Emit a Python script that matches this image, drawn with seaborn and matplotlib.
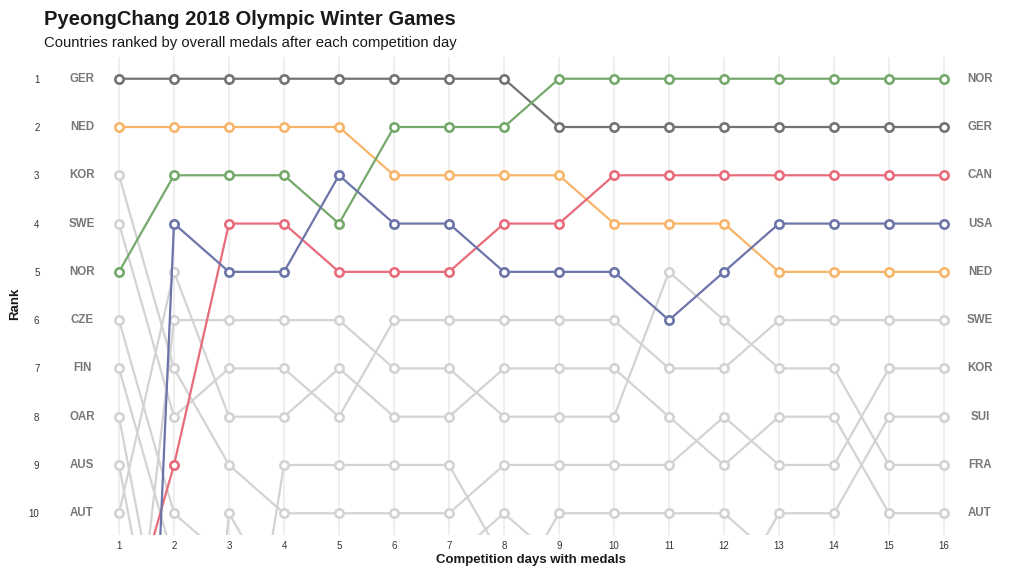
import pandas as pd
import matplotlib
matplotlib.use("Agg")
import matplotlib.pyplot as plt
import seaborn as sns

# ranks after each competition day (values below 10 are off the visible area)
days = list(range(1, 17))

GER = [1, 1, 1, 1, 1, 1, 1, 1, 2, 2, 2, 2, 2, 2, 2, 2]
NED = [2, 2, 2, 2, 2, 3, 3, 3, 3, 4, 4, 4, 5, 5, 5, 5]
NOR = [5, 3, 3, 3, 4, 2, 2, 2, 1, 1, 1, 1, 1, 1, 1, 1]
CAN = [13, 9, 4, 4, 5, 5, 5, 4, 4, 3, 3, 3, 3, 3, 3, 3]
USA = [30, 4, 5, 5, 3, 4, 4, 5, 5, 5, 6, 5, 4, 4, 4, 4]
KOR = [3, 7, 9, 10, 10, 10, 10, 9, 9, 9, 9, 8, 9, 9, 7, 7]
SWE = [4, 8, 7, 7, 8, 6, 6, 6, 6, 6, 7, 7, 6, 6, 6, 6]
AUT = [10, 5, 8, 8, 7, 8, 8, 7, 7, 7, 8, 9, 8, 8, 10, 10]
FRA = [16, 6, 6, 6, 6, 7, 7, 8, 8, 8, 5, 6, 7, 7, 9, 9]
CZE = [6, 10, 11, 11, 13, 13, 13, 13, 14, 14, 14, 14, 14, 15, 15, 15]
FIN = [7, 11, 12, 14, 14, 14, 14, 14, 15, 15, 15, 15, 15, 16, 16, 16]
OAR = [8, 14, 13, 13, 12, 12, 12, 13, 13, 13, 13, 14, 13, 14, 14, 14]
AUS = [9, 15, 15, 15, 15, 15, 15, 15, 16, 16, 16, 16, 16, 17, 17, 17]
JPN = [20, 21, 10, 12, 11, 11, 11, 10, 11, 11, 11, 11, 12, 12, 12, 12]
ITA = [12, 12, 16, 9, 9, 9, 9, 11, 12, 12, 12, 13, 13, 13, 13, 13]
CHN = [14, 13, 14, 16, 16, 16, 16, 12, 10, 10, 10, 10, 11, 11, 11, 11]
SUI = [19, 19, 18, 17, 17, 17, 17, 16, 17, 17, 17, 12, 10, 10, 8, 8]

ranks = {
    "GER": GER, "NED": NED, "NOR": NOR, "CAN": CAN, "USA": USA,
    "KOR": KOR, "SWE": SWE, "AUT": AUT, "FRA": FRA, "CZE": CZE,
    "FIN": FIN, "OAR": OAR, "AUS": AUS, "JPN": JPN, "ITA": ITA,
    "CHN": CHN, "SUI": SUI,
}

highlight = {
    "GER": "#737373",
    "NED": "#f8b56a",
    "NOR": "#75a96b",
    "CAN": "#e86b7b",
    "USA": "#6c74a8",
}

rows = []
for country, r in ranks.items():
    for d, v in zip(days, r):
        rows.append({"country": country, "day": d, "rank": v})
df = pd.DataFrame(rows)

sns.set_theme(style="white")
plt.rcParams['font.family'] = ['Liberation Sans', 'DejaVu Sans']

W, H = 1024, 576
fig = plt.figure(figsize=(W / 100, H / 100), dpi=100)
left, right, top, bottom = 45, 1000, 57, 535
ax = fig.add_axes([left / W, 1 - bottom / H, (right - left) / W, (bottom - top) / H])

# grey lines first, highlighted on top
for country in ranks:
    sub = df[df["country"] == country]
    col = highlight.get(country, "#d3d3d3")
    z = 3 if country in highlight else 2
    sns.lineplot(data=sub, x="day", y="rank", ax=ax, color=col, lw=1.6,
                 marker="o", markersize=6, markerfacecolor="white",
                 markeredgecolor=col, markeredgewidth=1.9, zorder=z,
                 legend=False)

px_per_day = 55
ax.set_xlim(1 - (119 - left) / px_per_day, 16 + (right - 944) / px_per_day)
ax.set_ylim(10.45, 0.55)

ax.set_xticks(days)
ax.set_yticks(range(1, 11))
ax.tick_params(axis="both", length=0, labelsize=7, labelcolor="#333333")
ax.tick_params(axis="x", pad=4)
ax.tick_params(axis="y", pad=4)
ax.grid(axis="x", color="#ebebeb", lw=1.2)
ax.grid(axis="y", visible=False)
ax.set_axisbelow(True)
for s in ax.spines.values():
    s.set_visible(False)
ax.set_xlabel("")
ax.set_ylabel("")

# country labels on both sides
first = df[df["day"] == 1].sort_values("rank").head(10)
last = df[df["day"] == 16].sort_values("rank").head(10)
for _, row in first.iterrows():
    ax.text(1 - 37 / px_per_day, row["rank"], row["country"], ha="center", va="center",
            fontsize=8.3, fontweight="bold", color="#777777")
for _, row in last.iterrows():
    ax.text(16 + 36 / px_per_day, row["rank"], row["country"], ha="center", va="center",
            fontsize=8.3, fontweight="bold", color="#777777")

fig.text(44 / W, 1 - 25 / H, "PyeongChang 2018 Olympic Winter Games",
         fontsize=14.5, fontweight="bold", color="#1a1a1a", va="baseline", ha="left")
fig.text(44 / W, 1 - 47 / H, "Countries ranked by overall medals after each competition day",
         fontsize=10.7, color="#1a1a1a", va="baseline", ha="left")
fig.text(531 / W, 1 - 560 / H, "Competition days with medals",
         fontsize=9.5, fontweight="bold", color="#1a1a1a", ha="center", va="center")
fig.text(15 / W, 1 - 304 / H, "Rank", fontsize=9.5, fontweight="bold",
         color="#1a1a1a", rotation=90, ha="center", va="center")

fig.savefig("out.png", dpi=100, facecolor="white")
